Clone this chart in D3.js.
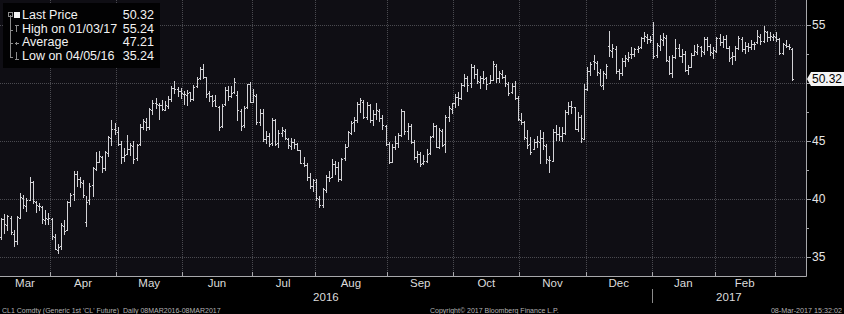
<!DOCTYPE html>
<html><head><meta charset="utf-8">
<script src="https://cdn.jsdelivr.net/npm/d3@7"></script>
<style>
html,body{margin:0;padding:0;background:#000;}
svg{display:block;}
text{font-family:"Liberation Sans",Arial,sans-serif;}
</style></head>
<body><svg id="chart" width="844" height="314"></svg>
<script>
// ---- categories: trading days by month ----
const tradingMonths = [
 ["2016-03",[8,9,10,11,14,15,16,17,18,21,22,23,24,28,29,30,31]],
 ["2016-04",[1,4,5,6,7,8,11,12,13,14,15,18,19,20,21,22,25,26,27,28,29]],
 ["2016-05",[2,3,4,5,6,9,10,11,12,13,16,17,18,19,20,23,24,25,26,27,31]],
 ["2016-06",[1,2,3,6,7,8,9,10,13,14,15,16,17,20,21,22,23,24,27,28,29,30]],
 ["2016-07",[1,5,6,7,8,11,12,13,14,15,18,19,20,21,22,25,26,27,28,29]],
 ["2016-08",[1,2,3,4,5,8,9,10,11,12,15,16,17,18,19,22,23,24,25,26,29,30,31]],
 ["2016-09",[1,2,6,7,8,9,12,13,14,15,16,19,20,21,22,23,26,27,28,29,30]],
 ["2016-10",[3,4,5,6,7,10,11,12,13,14,17,18,19,20,21,24,25,26,27,28,31]],
 ["2016-11",[1,2,3,4,7,8,9,10,11,14,15,16,17,18,21,22,23,25,28,29,30]],
 ["2016-12",[1,2,5,6,7,8,9,12,13,14,15,16,19,20,21,22,23,27,28,29,30]],
 ["2017-01",[3,4,5,6,9,10,11,12,13,17,18,19,20,23,24,25,26,27,30,31]],
 ["2017-02",[1,2,3,6,7,8,9,10,13,14,15,16,17,21,22,23,24,27,28]],
 ["2017-03",[1,2,3,6,7,8]]
];
const monthLabels = ["Mar","Apr","May","Jun","Jul","Aug","Sep","Oct","Nov","Dec","Jan","Feb",""];
const yearLabels = ["2016","2017"];
const yMajorTicks = [35,40,45,50,55];
const yMinorTicks = [37.5,42.5,47.5,52.5];

// ---- series values (OHLC) ----
const open = [
37.92,36.70,38.30,37.80,38.40,37.00,36.40,38.40,40.10,39.40,39.95,41.45,39.70,39.40,39.35,38.20,38.30,
38.30,36.70,35.60,35.95,37.65,37.30,39.75,40.40,42.15,41.70,41.40,38.00,39.90,41.20,42.60,43.20,43.60,42.70,44.00,45.30,46.00,
45.80,44.75,43.60,43.90,44.30,44.60,43.50,44.70,46.20,46.60,46.20,47.70,48.30,48.10,48.10,47.70,48.05,48.60,49.60,49.45,49.30,
49.05,48.95,49.20,48.60,49.70,50.40,51.20,50.50,49.10,48.85,48.50,47.90,46.30,48.20,49.40,48.90,49.20,49.00,47.60,46.40,47.90,49.90,
48.40,48.90,46.60,47.40,45.20,45.40,44.80,46.80,44.80,45.70,45.90,45.20,44.60,44.90,44.70,44.20,43.10,42.90,41.90,41.10,
41.50,40.00,39.50,40.80,41.90,41.90,43.00,42.80,41.70,43.50,44.50,45.70,46.60,46.80,48.20,48.40,47.05,48.10,46.80,47.30,47.60,47.00,46.30,
44.70,43.20,44.50,44.80,45.50,47.60,45.90,46.30,44.90,43.60,43.90,43.10,43.30,44.00,45.40,46.30,44.50,45.90,44.70,47.10,47.80,
48.30,48.80,48.70,49.80,50.40,50.00,51.40,50.80,50.10,50.40,50.40,50.00,50.30,51.50,50.40,50.80,50.50,49.90,49.20,49.70,48.70,
46.80,46.60,45.30,44.70,44.30,44.90,44.90,45.30,44.60,43.40,43.30,45.80,45.60,45.40,45.70,47.50,48.00,47.90,46.00,47.10,45.20,
49.50,51.00,51.90,51.70,50.90,49.80,50.80,53.20,52.80,52.90,51.00,50.90,51.90,52.10,52.50,52.50,52.90,53.10,53.90,54.00,53.80,
54.20,52.40,53.20,53.70,53.90,51.90,50.90,52.20,53.00,52.30,52.50,51.10,51.40,52.40,52.70,53.10,52.70,53.80,53.20,52.60,
52.80,53.90,53.50,53.80,53.00,52.20,52.30,53.00,53.80,52.90,53.20,53.10,53.40,53.50,54.00,53.60,54.40,54.00,54.00,
54.00,53.80,52.60,53.30,53.20,52.95
];
const high = [
38.02,38.40,38.67,38.59,38.50,37.36,38.55,40.54,40.38,40.07,41.90,41.54,39.80,39.67,39.40,39.05,38.82,
38.40,36.94,36.09,37.90,38.20,39.80,40.51,42.40,42.42,41.90,41.60,40.28,41.37,42.79,44.06,44.12,43.70,44.18,45.47,46.78,46.55,
46.25,44.98,44.39,45.50,44.87,45.00,44.75,46.46,46.87,46.97,47.86,48.55,48.68,48.26,48.56,48.44,48.88,49.75,50.21,49.68,49.60,
49.32,49.40,49.20,49.86,50.53,51.34,51.67,50.55,49.35,48.97,48.95,48.05,48.15,49.63,49.75,49.77,50.45,49.35,47.79,48.01,49.91,50.07,
49.49,49.05,47.75,47.75,45.83,45.70,46.94,46.86,45.95,46.25,46.05,45.28,45.30,45.15,44.83,44.20,43.58,43.10,42.20,41.73,
41.70,40.25,40.98,42.07,42.40,43.49,43.24,43.19,43.54,44.78,45.90,46.71,47.03,48.38,48.75,48.50,48.40,48.20,47.70,48.30,47.72,47.26,46.42,
44.92,44.72,45.43,45.73,47.75,47.60,46.53,46.48,45.09,44.13,44.05,43.83,44.35,45.41,46.55,46.38,46.13,46.00,47.28,48.04,48.30,
49.02,49.25,49.98,50.74,50.60,51.60,51.56,51.21,50.63,51.05,50.56,50.73,51.93,51.61,51.06,51.10,50.68,50.08,50.04,50.18,48.86,
47.40,46.71,45.95,45.34,45.15,45.46,45.95,45.75,44.76,43.75,46.04,46.40,46.21,46.18,47.68,48.35,48.45,47.96,47.47,47.27,49.94,
51.40,51.85,52.42,51.90,51.25,51.03,51.65,54.51,53.40,53.22,51.20,52.15,52.44,52.64,53.09,53.06,53.15,53.95,54.37,54.21,54.09,
55.24,53.41,54.10,54.33,54.12,52.37,52.41,53.77,53.33,52.95,52.75,51.55,52.57,53.25,53.33,53.20,53.94,53.94,53.32,53.13,
54.00,54.22,54.02,54.16,53.18,52.66,53.18,54.07,53.97,53.50,53.44,53.75,53.56,54.59,54.20,54.94,54.50,54.40,54.25,
54.38,53.87,53.44,53.70,53.40,53.05
];
const low = [
36.32,36.45,36.99,37.25,36.90,35.89,36.05,38.30,39.10,38.88,39.82,39.60,38.80,38.97,37.85,37.75,37.80,
36.50,35.63,35.24,35.59,36.90,37.20,39.35,39.80,41.05,40.95,40.10,37.61,39.50,40.15,42.40,43.09,42.22,42.43,43.63,44.60,45.50,
44.55,43.03,43.17,43.80,43.70,43.00,43.28,44.55,45.93,45.90,45.95,47.25,47.75,46.84,47.57,47.55,47.72,48.38,49.06,48.80,48.63,
48.09,48.05,48.39,48.45,49.60,50.30,50.37,48.72,48.32,47.96,47.95,45.83,46.11,48.02,48.48,48.75,49.01,46.69,45.83,46.10,47.78,48.26,
48.24,46.41,46.31,44.93,44.77,44.45,44.60,44.61,44.43,45.38,45.06,44.35,44.22,44.31,44.10,42.98,42.80,41.52,40.85,40.57,
39.86,39.19,39.23,40.54,41.50,41.80,42.09,41.50,41.52,43.25,44.48,45.55,45.81,46.55,47.45,46.88,46.80,46.58,46.30,46.79,46.62,45.98,44.56,
43.02,43.08,44.26,44.36,45.34,45.55,45.05,44.70,43.40,43.09,42.80,42.90,43.14,43.80,45.28,44.40,44.35,44.48,44.00,46.60,47.35,
47.86,48.03,48.55,49.66,49.25,49.60,50.36,49.88,49.45,49.95,49.37,49.90,50.15,50.00,50.00,50.32,49.66,48.86,49.05,48.51,46.71,
46.34,45.06,44.32,43.76,44.20,44.40,43.03,44.21,43.03,42.20,43.16,45.02,45.03,44.94,45.53,47.24,47.33,45.97,45.76,44.82,45.12,
49.35,50.58,51.13,50.60,49.72,49.38,50.33,52.20,52.18,50.80,50.27,50.62,51.36,51.81,52.06,52.28,52.58,52.95,53.54,53.33,53.41,
52.11,52.15,52.79,53.18,51.85,50.71,50.43,52.10,52.20,51.71,50.91,50.71,51.26,52.30,52.41,52.24,52.44,52.77,52.30,52.04,
52.59,53.17,53.04,52.90,51.80,51.58,51.93,52.85,52.64,52.54,52.71,52.82,52.82,53.35,53.24,53.45,53.56,53.60,53.60,
53.52,52.45,52.42,53.00,52.82,50.20
];
const close = [
36.50,38.29,37.84,38.50,37.18,36.34,38.46,40.20,39.44,39.91,41.45,39.79,39.46,39.39,38.28,38.32,38.34,
36.79,35.70,35.89,37.75,37.26,39.72,40.36,42.17,41.76,41.50,40.36,39.78,41.08,42.63,43.18,43.73,42.64,44.04,45.33,46.03,45.92,
44.78,43.65,43.78,44.32,44.66,43.44,44.66,46.23,46.70,46.21,47.72,48.31,48.19,48.12,47.75,48.08,48.62,49.56,49.48,49.33,49.10,
49.01,49.17,48.62,49.69,50.36,51.23,50.56,49.07,48.88,48.49,48.01,46.21,47.98,49.37,48.85,49.13,50.11,47.64,46.33,47.85,49.88,48.33,
48.99,46.60,47.43,45.14,45.41,44.76,46.80,44.75,45.68,45.95,45.24,44.65,44.94,44.75,44.19,43.13,42.92,41.92,41.14,41.60,
40.06,39.51,40.83,41.93,41.80,43.02,42.77,41.71,43.49,44.49,45.74,46.58,46.79,48.22,48.52,47.05,48.10,46.77,47.33,47.64,46.98,46.35,44.70,
43.16,44.44,44.83,45.50,47.62,45.88,46.29,44.90,43.58,43.91,43.03,43.30,43.85,45.34,46.32,44.48,45.93,44.67,47.05,47.83,48.24,
48.81,48.69,49.83,50.44,49.81,51.35,50.79,50.18,50.44,50.35,49.94,50.29,51.60,50.43,50.85,50.52,49.96,49.18,49.72,48.70,46.86,
46.67,45.34,44.66,44.07,44.89,44.98,45.27,44.66,43.41,43.32,45.81,45.57,45.42,45.69,47.49,48.03,47.96,46.06,47.08,45.23,49.44,
51.06,51.68,51.79,50.93,49.77,50.84,51.50,52.83,52.98,51.04,50.90,51.90,52.12,52.23,52.49,52.95,53.02,53.90,54.06,53.77,53.72,
52.33,53.26,53.76,53.99,51.96,50.82,52.25,53.01,52.37,52.48,51.08,51.37,52.42,52.75,53.18,52.75,53.78,53.17,52.63,52.81,
53.88,53.54,53.83,53.01,52.17,52.34,53.00,53.86,52.93,53.20,53.11,53.36,53.40,54.06,53.59,54.45,53.99,54.05,54.01,
53.83,52.61,53.33,53.20,53.14,50.32
];

// ---- legend & footer text ----
const legendLabels = ["Last Price","High on 01/03/17","Average","Low on 04/05/16"];
const legendValues = ["50.32","55.24","47.21","35.24"];
const lastPrice = 50.32;
const footerLeft = "CL1 Comdty (Generic 1st 'CL' Future)  Daily 08MAR2016-08MAR2017";
const footerMid = "Copyright\u00A9 2017 Bloomberg Finance L.P.";
const footerRight = "08-Mar-2017 15:32:02";

// ---- build table ----
const dates = [];
tradingMonths.forEach(([m, days]) => days.forEach(d => dates.push(m + "-" + String(d).padStart(2,"0"))));
const data = dates.map((d,i) => ({date:d, month:d.slice(0,7), o:open[i], h:high[i], l:low[i], c:close[i], i}));

const svg = d3.select("#chart");
const W = 844, H = 314;
const P = {left:0, right:806, top:0, bottom:276};

const x = d3.scaleLinear().domain([0, data.length-1]).range([-2, 792]);
const y = d3.scaleLinear().domain([35,55]).range([257,25]);

svg.append("rect").attr("x",0).attr("y",0).attr("width",W).attr("height",H).attr("fill","#000");
svg.append("rect").attr("x",P.left).attr("y",P.top).attr("width",P.right-P.left).attr("height",P.bottom-P.top).attr("fill","#0f0e14");

// month boundaries
const bounds = [];
for (let i=1;i<data.length;i++) if (data[i].month !== data[i-1].month) bounds.push({x:(x(i-1)+x(i))/2, month:data[i].month});
const edges = [P.left, ...bounds.map(b=>b.x), P.right];

const grid = svg.append("g");
grid.selectAll("line.vg").data(bounds).join("line")
  .attr("x1",d=>Math.round(d.x)+0.5).attr("x2",d=>Math.round(d.x)+0.5)
  .attr("y1",P.top).attr("y2",P.bottom)
  .attr("stroke","#4a4a50").attr("stroke-width",1).attr("stroke-dasharray","1,1");
grid.selectAll("line.hg").data(yMajorTicks).join("line")
  .attr("x1",P.left).attr("x2",P.right)
  .attr("y1",d=>Math.round(y(d))+0.5).attr("y2",d=>Math.round(y(d))+0.5)
  .attr("stroke","#4a4a50").attr("stroke-width",1).attr("stroke-dasharray","1,1");

// bars
const bars = svg.append("g").attr("fill","#d2d2d6").attr("shape-rendering","crispEdges");
bars.selectAll("g").data(data).join("g").each(function(d){
  const g = d3.select(this);
  const xi = Math.round(x(d.i));
  const yh = Math.round(y(d.h)), yl = Math.round(y(d.l));
  g.append("rect").attr("x",xi).attr("y",yh).attr("width",1).attr("height",Math.max(1,yl-yh));
  g.append("rect").attr("x",xi-1).attr("y",Math.round(y(d.o))).attr("width",1).attr("height",1);
  g.append("rect").attr("x",xi+1).attr("y",Math.round(y(d.c))).attr("width",1).attr("height",1);
});

// axes lines
const axisCol = "#a8a8ac";
svg.append("line").attr("x1",P.right+0.5).attr("x2",P.right+0.5).attr("y1",P.top).attr("y2",P.bottom+0.5).attr("stroke",axisCol);
svg.append("line").attr("x1",P.left).attr("x2",P.right+0.5).attr("y1",P.bottom+0.5).attr("y2",P.bottom+0.5).attr("stroke",axisCol);

// right axis ticks
svg.selectAll("line.ymaj").data(yMajorTicks).join("line")
  .attr("x1",P.right).attr("x2",P.right+5).attr("y1",d=>Math.round(y(d))+0.5).attr("y2",d=>Math.round(y(d))+0.5).attr("stroke",axisCol);
svg.selectAll("line.ymin").data(yMinorTicks).join("line")
  .attr("x1",P.right).attr("x2",P.right+3).attr("y1",d=>Math.round(y(d))+0.5).attr("y2",d=>Math.round(y(d))+0.5).attr("stroke",axisCol);
// labels hidden behind the last-price marker are not drawn (as in the reference)
svg.selectAll("text.ylab").data(yMajorTicks.filter(v => Math.abs(y(v) - y(lastPrice)) > 12)).join("text")
  .attr("x",P.right+6).attr("y",d=>y(d)+0.5).attr("dominant-baseline","middle")
  .attr("font-size","12px").attr("fill","#e6e6e6").text(d=>d);

// last price marker
const ly = Math.round(y(lastPrice));
svg.append("path").attr("d",`M${P.right+1},${ly} L${P.right+5},${ly-7} L${W},${ly-7} L${W},${ly+7} L${P.right+5},${ly+7} Z`).attr("fill","#f4f4f4");
svg.append("text").attr("x",P.right+6).attr("y",ly+0.5).attr("dominant-baseline","middle")
  .attr("font-size","12px").attr("fill","#000").text(lastPrice.toFixed(2));

// bottom axis ticks and month labels
svg.selectAll("line.xt").data(bounds).join("line")
  .attr("x1",d=>Math.round(d.x)+0.5).attr("x2",d=>Math.round(d.x)+0.5).attr("y1",P.bottom-4).attr("y2",P.bottom)
  .attr("stroke",axisCol);
svg.selectAll("text.mlab").data(monthLabels).join("text")
  .attr("x",(d,i)=>(edges[i]+edges[i+1])/2).attr("y",284).attr("dominant-baseline","middle")
  .attr("text-anchor","middle").attr("font-size","11.5px").attr("fill","#dcdcdc").text(d=>d);

// years
const yearSplit = bounds.find(b=>b.month==="2017-01").x;
const yearCenters = [(P.left+yearSplit)/2, (yearSplit+P.right)/2];
svg.selectAll("text.ylab2").data(yearLabels).join("text")
  .attr("x",(d,i)=>yearCenters[i]).attr("y",297.5).attr("dominant-baseline","middle")
  .attr("text-anchor","middle").attr("font-size","11.5px").attr("fill","#dcdcdc").text(d=>d);
svg.append("line").attr("x1",Math.round(yearSplit)+0.5).attr("x2",Math.round(yearSplit)+0.5).attr("y1",289).attr("y2",303).attr("stroke","#8a8a8a");

// footer
svg.append("text").attr("x",2).attr("y",313).attr("font-size","7px").attr("fill","#b4b4b4").attr("xml:space","preserve").text(footerLeft);
svg.append("text").attr("x",430).attr("y",313).attr("font-size","7px").attr("fill","#b4b4b4").text(footerMid);
svg.append("text").attr("x",842).attr("y",313).attr("text-anchor","end").attr("font-size","7.2px").attr("fill","#b4b4b4").text(footerRight);

// legend
const lg = svg.append("g");
lg.append("rect").attr("x",3).attr("y",3).attr("width",157).attr("height",65).attr("fill","#020203");
const rowY = [16,29.5,43,56.5];
lg.selectAll("text.ll").data(legendLabels).join("text")
  .attr("x",22).attr("y",(d,i)=>rowY[i]).attr("dominant-baseline","middle")
  .attr("font-size","12.5px").attr("fill","#f2f2f2").text(d=>d);
lg.selectAll("text.lv").data(legendValues).join("text")
  .attr("x",154).attr("y",(d,i)=>rowY[i]).attr("dominant-baseline","middle").attr("text-anchor","end")
  .attr("font-size","12.5px").attr("fill","#f2f2f2").text(d=>d);
// legend tree + symbols
const sym = lg.append("g").attr("stroke","#8c8c8c").attr("fill","none").attr("shape-rendering","crispEdges");
sym.append("line").attr("x1",10.5).attr("x2",10.5).attr("y1",15).attr("y2",57);
rowY.forEach(ry => sym.append("line").attr("x1",10).attr("x2",13).attr("y1",Math.round(ry)+0.5).attr("y2",Math.round(ry)+0.5));
sym.append("rect").attr("x",8.5).attr("y",12.5).attr("width",4).attr("height",4);
lg.append("rect").attr("x",14).attr("y",12).attr("width",6).attr("height",6).attr("fill","#f4f4f4");
sym.append("path").attr("d","M14.5,25.5 H18.5 M16.5,25.5 V32");
sym.append("path").attr("d","M14.5,43.5 H18.5 M16.5,42 V45");
sym.append("path").attr("d","M16.5,52 V59 M14.5,59.5 H18.5");
</script>
</body></html>
